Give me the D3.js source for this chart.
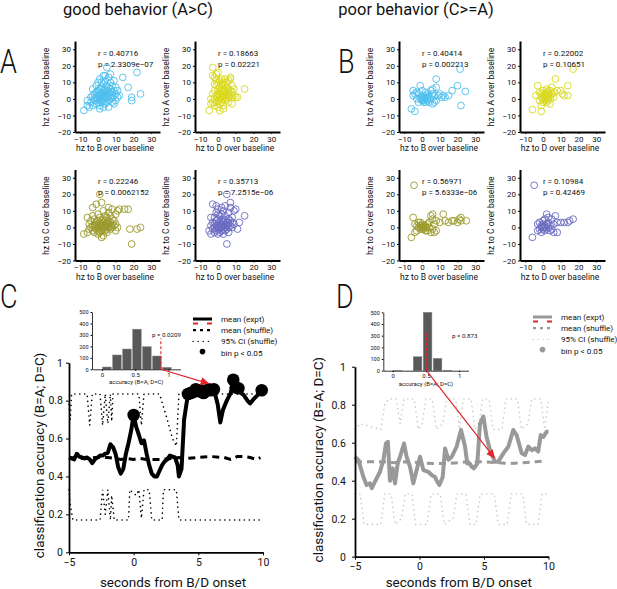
<!DOCTYPE html>
<html>
<head>
<meta charset="utf-8">
<script src="https://cdn.jsdelivr.net/npm/d3@7"></script>
<style>
body { margin: 0; background: #fff; }
text { font-family: Roboto, "Open Sans", sans-serif; fill: #111; }
</style>
</head>
<body>
<script>
// scatter data, [hz to B or D, hz to A or C] over baseline
var goodBA = [[-8,-7],[-6,-4],[-5,-5],[-4,-2],[-4,1],[-3,-4],[-3,2],[-2,-1],[-2,3],[-2,0],[-1,-3],[-1,1],[-1,4],[-1,8],[0,-2],[0,0],[0,2],[0,5],[0,10],[1,-4],[1,-1],[1,1],[1,3],[1,6],[1,12],[2,-2],[2,0],[2,2],[2,4],[2,7],[3,-5],[3,-1],[3,1],[3,3],[3,5],[3,9],[3,14],[4,-3],[4,0],[4,2],[4,4],[4,6],[4,11],[5,-2],[5,1],[5,3],[5,5],[5,8],[5,19],[6,-1],[6,2],[6,4],[6,7],[6,13],[7,0],[7,3],[7,6],[7,10],[8,-2],[8,1],[8,4],[8,8],[9,2],[9,5],[9,11],[10,-1],[10,3],[10,7],[11,1],[11,5],[12,2],[14,13],[17,7],[19,1],[19,-1],[22,16],[24,3],[-6,-1],[-3,6],[2,10],[4,14],[7,15],[6,-5],[1,-6],[9,-3]];
var goodDA = [[-5,-7],[-4,-3],[-3,19],[-3,14],[-2,13],[-1,15],[0,16],[-4,0],[-3,-2],[-3,3],[-2,-4],[-2,0],[-2,5],[-1,-2],[-1,2],[-1,8],[0,-5],[0,-1],[0,1],[0,3],[0,6],[0,10],[1,-3],[1,0],[1,2],[1,4],[1,7],[1,11],[2,-2],[2,1],[2,3],[2,5],[2,8],[2,9],[3,-4],[3,0],[3,2],[3,4],[3,6],[3,10],[4,-1],[4,1],[4,3],[4,5],[4,8],[4,12],[5,0],[5,2],[5,4],[5,7],[6,-2],[6,1],[6,3],[6,6],[6,11],[7,2],[7,5],[7,13],[7,12],[8,1],[8,4],[8,8],[9,2],[9,6],[10,1],[11,1],[15,6],[-1,12],[2,12],[5,10],[3,-6],[-2,9],[8,-3],[1,-7]];
var goodBC = [[-8,-4],[-6,-3],[-5,-1],[-5,2],[-4,0],[-4,4],[-3,-2],[-3,1],[-3,7],[-2,-3],[-2,0],[-2,2],[-2,5],[-1,-1],[-1,1],[-1,3],[-1,14],[0,-4],[0,-2],[0,0],[0,2],[0,4],[0,8],[1,-3],[1,-1],[1,1],[1,3],[1,6],[1,20],[2,-2],[2,0],[2,2],[2,4],[2,15],[3,-5],[3,-1],[3,1],[3,3],[3,5],[3,10],[4,-2],[4,0],[4,2],[4,4],[4,7],[5,-3],[5,-1],[5,1],[5,3],[5,6],[6,0],[6,2],[6,4],[6,9],[7,-1],[7,1],[7,3],[7,7],[8,0],[8,2],[8,5],[8,11],[9,1],[9,4],[10,2],[10,8],[11,0],[11,10],[12,11],[15,11],[17,11],[18,-1],[22,-1],[24,0],[19,-10],[-3,12],[6,12],[10,-2],[2,-6],[-6,6]];
var goodDC = [[-5,-2],[-4,-4],[-4,1],[-3,14],[-3,-1],[-3,3],[-2,-3],[-2,0],[-2,2],[-2,6],[-1,-2],[-1,1],[-1,4],[-1,9],[0,-4],[0,-1],[0,0],[0,2],[0,5],[0,11],[1,-3],[1,0],[1,1],[1,3],[1,7],[2,-2],[2,0],[2,2],[2,4],[2,8],[2,12],[3,-1],[3,1],[3,3],[3,5],[3,10],[4,-2],[4,0],[4,2],[4,4],[4,7],[5,-1],[5,1],[5,3],[5,20],[5,-10],[6,0],[6,2],[6,5],[6,9],[7,15],[7,1],[7,4],[7,12],[8,0],[8,3],[8,6],[9,2],[9,10],[10,11],[11,-1],[12,3],[15,7],[-1,13],[3,-4],[6,-3],[0,8],[4,13],[-4,6]];
var poorBA = [[-6,-6],[-4,-7.5],[-5,5],[-4,3],[-3,4],[-5,2],[-2,3],[-1,8],[0,5],[0,0],[0,1],[0,-1],[1,0],[1,2],[1,-1],[2,0],[2,1],[2,-2],[3,0],[3,-1],[3,1],[-1,0],[-2,-2],[4,2],[4,-2],[5,5],[5,0],[6,6],[6,3],[7,-2],[7,2],[8,7],[8,12],[9,2],[10,3],[11,1],[12,2],[13,1],[15,2],[17,5],[20,8],[21.5,18],[22,-4],[24.5,4.5],[6,-3],[2,4],[-3,0],[1,-2],[3,3],[8,-1]];
var poorDA = [[-6,-6.5],[-1,-7.5],[-3,8],[-4,2],[-2,4],[-2,-1],[-1,1],[-1,3],[0,5],[0,0],[0,-2],[0,2],[1,1],[1,-1],[1,3],[1,0],[2,2],[2,-2],[2,0],[2,4],[3,5],[3,1],[3,-1],[3,3],[4,0],[4,2],[4,-3],[5,7],[5,3],[6,1],[6,4],[7,12],[8,5],[10,5],[11,3],[12,2],[14,8],[14,2],[17,18],[-1,-4],[4,5],[2,6]];
var poorBC = [[-4.5,25.5],[-6,-6],[-5,6],[-4,-3],[-4,2],[-3,1],[-3,-2],[-2,3],[-2,0],[-1,1],[-1,-1],[0,0],[0,1],[0,-1],[0,2],[1,0],[1,1],[1,-1],[2,0],[2,1],[2,-2],[3,-2],[3,2],[4,3],[5,7],[5,-3],[6,8],[6,5],[6,-1],[7,2],[7,-3],[8,4],[8,-2],[10,3],[12,8],[13,4],[15,3],[17,4],[18,4],[20,3],[21,5],[22,6],[22,4],[25,4],[4,0],[-1,3]];
var poorDC = [[-5,25.5],[-6,-6],[-3,-2],[-3,2],[-2,3],[-2,-1],[-1,0],[-1,1],[0,0],[0,-1],[0,2],[0,4],[1,1],[1,-2],[1,0],[2,8],[2,2],[2,-1],[3,6],[3,0],[3,3],[4,-2],[4,1],[5,5],[5,-1],[6,2],[7,7],[8,-3],[8,3],[10,3],[12,3],[14,3],[15,4],[17,5],[6,-3],[1,5],[-1,-3]];
var scatterStats = [
  ['r = 0.40716', 'p = 2.3309e\u221207'], ['r = 0.18663', 'p = 0.02221'],
  ['r = 0.22246', 'p = 0.0062152'], ['r = 0.35713', 'p = 7.2515e\u221206'],
  ['r = 0.40414', 'p = 0.002213'], ['r = 0.22002', 'p = 0.10651'],
  ['r = 0.56971', 'p = 5.6333e\u221206'], ['r = 0.10984', 'p = 0.42469']
];
var scatterXTicks = [-10, 0, 10, 20, 30];
var scatterYTicks = [-20, -10, 0, 10, 20, 30];

// decoding over time, [seconds, accuracy]
var goodExpt = [[-5,0.50],[-4.8,0.495],[-4.6,0.49],[-4.4,0.52],[-4.2,0.505],[-4.0,0.50],[-3.8,0.495],[-3.6,0.50],[-3.4,0.49],[-3.2,0.47],[-3.0,0.49],[-2.8,0.50],[-2.6,0.51],[-2.4,0.51],[-2.2,0.52],[-2.0,0.525],[-1.8,0.57],[-1.6,0.555],[-1.4,0.52],[-1.2,0.45],[-1.0,0.415],[-0.8,0.44],[-0.6,0.52],[-0.4,0.575],[-0.2,0.64],[0,0.724],[0.2,0.66],[0.4,0.62],[0.6,0.575],[0.8,0.59],[1.0,0.52],[1.2,0.46],[1.4,0.415],[1.6,0.40],[1.8,0.40],[2.0,0.43],[2.2,0.46],[2.4,0.48],[2.6,0.49],[2.8,0.51],[3.0,0.505],[3.2,0.50],[3.4,0.46],[3.5,0.40],[3.7,0.44],[3.9,0.70],[4.2,0.835],[4.4,0.84],[4.6,0.845],[4.8,0.86],[5.0,0.85],[5.2,0.855],[5.4,0.84],[5.6,0.85],[5.8,0.86],[6.0,0.855],[6.2,0.86],[6.5,0.78],[6.7,0.685],[6.9,0.75],[7.2,0.80],[7.5,0.84],[7.7,0.91],[7.9,0.87],[8.1,0.865],[8.3,0.84],[8.5,0.83],[8.8,0.80],[9.0,0.785],[9.3,0.81],[9.6,0.83],[9.9,0.855]];
var goodShuffle = [[-5,0.50],[-4,0.495],[-3,0.50],[-2,0.50],[-1.5,0.495],[-1,0.49],[-0.5,0.495],[0,0.49],[0.5,0.495],[1,0.49],[2,0.49],[3,0.495],[3.5,0.50],[4,0.495],[5,0.50],[6,0.505],[7,0.50],[7.5,0.49],[8,0.505],[8.5,0.505],[9,0.50],[9.5,0.49],[9.8,0.50]];
var goodCIHigh = [[-5,0.78],[-4.9,0.70],[-4.8,0.835],[-3.6,0.835],[-3.4,0.67],[-3.2,0.835],[-2.6,0.835],[-2.4,0.67],[-2.2,0.835],[-2.0,0.68],[-1.8,0.835],[-1.7,0.69],[-1.6,0.835],[0.4,0.835],[0.6,0.67],[0.8,0.835],[2.0,0.835],[2.6,0.70],[3.0,0.60],[3.3,0.56],[3.5,0.835],[10,0.835]];
var goodCILow = [[-5,0.33],[-4.9,0.25],[-4.7,0.17],[-2.6,0.17],[-2.4,0.33],[-2.2,0.20],[-2.0,0.33],[-1.8,0.17],[-1.7,0.30],[-1.5,0.17],[-0.4,0.17],[-0.3,0.33],[0.2,0.30],[0.4,0.33],[0.6,0.18],[0.8,0.33],[1.2,0.33],[1.4,0.17],[2.2,0.17],[2.3,0.33],[3.3,0.33],[3.5,0.17],[10,0.17]];
var goodSigTimes = [0, 4.2, 4.4, 4.6, 4.8, 5.0, 5.2, 5.4, 5.6, 5.8, 6.0, 6.2, 7.7, 7.9, 8.1, 9.9];

var poorExpt = [[-5,0.526],[-4.74,0.509],[-4.35,0.42],[-4.1,0.377],[-3.84,0.386],[-3.7,0.36],[-3.45,0.395],[-3.06,0.447],[-2.8,0.509],[-2.6,0.596],[-2.45,0.605],[-2.29,0.40],[-2.08,0.465],[-1.9,0.386],[-1.69,0.49],[-1.51,0.526],[-1.2,0.596],[-1.0,0.526],[-0.74,0.474],[-0.48,0.386],[-0.22,0.456],[0.04,0.526],[0.3,0.456],[0.68,0.447],[0.94,0.43],[1.2,0.42],[1.33,0.40],[1.54,0.377],[1.8,0.42],[1.98,0.57],[2.24,0.51],[2.5,0.526],[2.88,0.58],[3.22,0.667],[3.53,0.58],[3.7,0.49],[3.9,0.49],[4.04,0.474],[4.22,0.465],[4.48,0.49],[4.69,0.70],[4.95,0.737],[5.2,0.63],[5.47,0.56],[5.85,0.50],[6.1,0.50],[6.5,0.544],[6.89,0.58],[7.27,0.667],[7.53,0.64],[7.92,0.544],[8.18,0.535],[8.44,0.58],[8.7,0.56],[8.95,0.57],[9.2,0.553],[9.4,0.64],[9.6,0.63],[9.86,0.658],[10,0.658]];
var poorShuffle = [[-5,0.50],[-4,0.50],[-3,0.50],[-2,0.495],[-1,0.50],[0,0.495],[1,0.49],[2,0.49],[3,0.495],[4,0.50],[5,0.50],[6,0.495],[7,0.49],[8,0.495],[9,0.50],[9.8,0.505]];
var poorCIHigh = [[-5,0.67],[-4.6,0.70],[-3.0,0.67],[-2.7,0.80],[-2.4,0.83],[-1.8,0.83],[-1.5,0.70],[-1.2,0.83],[-0.4,0.83],[-0.1,0.67],[0.2,0.70],[0.5,0.83],[1.0,0.83],[1.3,0.67],[1.8,0.70],[2.1,0.83],[2.8,0.83],[3.1,0.67],[3.4,0.83],[4.0,0.83],[4.3,0.67],[4.6,0.70],[4.9,0.83],[5.4,0.83],[5.7,0.67],[6.4,0.67],[6.7,0.83],[7.6,0.83],[7.9,0.67],[8.4,0.70],[8.7,0.83],[9.4,0.83],[9.7,0.67],[10,0.83]];
var poorCILow = [[-5,0.33],[-4.6,0.33],[-4.3,0.17],[-3.0,0.17],[-2.7,0.33],[-2.2,0.33],[-1.9,0.17],[-1.4,0.20],[-1.1,0.33],[-0.6,0.33],[-0.3,0.17],[0.6,0.17],[0.9,0.33],[1.6,0.33],[1.9,0.17],[2.6,0.20],[2.9,0.33],[3.6,0.33],[3.9,0.17],[4.4,0.17],[4.7,0.33],[5.8,0.33],[6.1,0.17],[6.8,0.17],[7.1,0.33],[8.0,0.33],[8.3,0.17],[9.2,0.17],[9.5,0.33],[10,0.33]];
var poorSigTimes = [];

// shuffle histograms (inset)
var histBins = [0.075, 0.225, 0.375, 0.525, 0.675, 0.825, 0.975];
var goodHist = [20, 125, 177, 350, 197, 116, 17];
var poorHist = [3, 0, 120, 768, 106, 3, 0];
var goodObs = 0.885, poorObs = 0.51;
var goodP = 'p = 0.0209', poorP = 'p = 0.873';
var goodArrowTo = [5.8, 0.89], poorArrowTo = [5.8, 0.52];

var legendLabels = ['mean (expt)', 'mean (shuffle)', '95% CI (shuffle)', 'bin p < 0.05'];
var timeTicks = [-5, 0, 5, 10];
var accTicks = [0, 0.2, 0.4, 0.6, 0.8, 1];

var red = '#e3242b';
var fmt = d3.format('~g');

var svg = d3.select('body').append('svg').attr('width', 617).attr('height', 589);

svg.append('defs').append('marker')
  .attr('id', 'arrowhead').attr('viewBox', '0 0 10 10')
  .attr('refX', 9).attr('refY', 5)
  .attr('markerWidth', 9).attr('markerHeight', 9)
  .attr('markerUnits', 'userSpaceOnUse').attr('orient', 'auto')
  .append('path').attr('d', 'M0,0.5 L10,5 L0,9.5 z').attr('fill', red);

// titles and panel letters
svg.append('text').attr('x', 138).attr('y', 15).attr('text-anchor', 'middle')
  .attr('font-size', 16.5).text('good behavior (A>C)');
svg.append('text').attr('x', 416).attr('y', 15).attr('text-anchor', 'middle')
  .attr('font-size', 16.5).text('poor behavior (C>=A)');

[['A', 0, 73], ['B', 338, 73], ['C', 0, 308], ['D', 336, 308]].forEach(function(l) {
  svg.append('text').attr('transform', 'translate(' + l[1] + ',' + l[2] + ') scale(0.82,1)')
    .attr('font-size', 33).attr('font-weight', 300).text(l[0]);
});

var styleAxis = function(g, size, width) {
  g.selectAll('.domain').attr('stroke', '#000').attr('stroke-width', width);
  g.selectAll('.tick line').attr('stroke', '#000');
  g.selectAll('.tick text').attr('font-size', size).attr('font-family', 'Roboto, sans-serif').attr('fill', '#222');
};

var drawScatter = function(x0, y0, pts, color, xName, yName, stats) {
  var x = d3.scaleLinear().domain([-13, 35]).range([x0, x0 + 85]);
  var y = d3.scaleLinear().domain([-20, 35]).range([y0, y0 - 91]);
  var g = svg.append('g');

  g.selectAll('circle').data(pts).enter().append('circle')
    .attr('cx', function(d) { return x(d[0]); })
    .attr('cy', function(d) { return y(d[1]); })
    .attr('r', 3.4)
    .attr('fill', 'none')
    .attr('stroke', color)
    .attr('stroke-width', 0.9);

  var xa = g.append('g').attr('transform', 'translate(0,' + y0 + ')')
    .call(d3.axisBottom(x).tickValues(scatterXTicks).tickFormat(fmt).tickSize(2).tickSizeOuter(0).tickPadding(2));
  styleAxis(xa, 8, 2);
  var ya = g.append('g').attr('transform', 'translate(' + x0 + ',0)')
    .call(d3.axisLeft(y).tickValues(scatterYTicks).tickFormat(fmt).tickSize(2).tickSizeOuter(0).tickPadding(2));
  styleAxis(ya, 8, 2);

  g.append('text').attr('x', x0 + 40).attr('y', y0 + 19).attr('text-anchor', 'middle')
    .attr('font-size', 8.5).attr('fill', '#333').text(xName);
  g.append('text').attr('transform', 'translate(' + (x0 - 26) + ',' + (y0 - 45) + ') rotate(-90)')
    .attr('text-anchor', 'middle').attr('font-size', 8.5).attr('fill', '#333').text(yName);

  g.append('text').attr('x', x(0)).attr('y', y(26)).attr('font-size', 8).attr('fill', '#222').text(stats[0]);
  g.append('text').attr('x', x(0)).attr('y', y(19.5)).attr('font-size', 8).attr('fill', '#222').text(stats[1]);
};

var cyan = '#4dbeee', yellow = '#d8d81c', olive = '#9b9b2c', purple = '#6a6ac2';
drawScatter(75, 132, goodBA, cyan, 'hz to B over baseline', 'hz to A over baseline', scatterStats[0]);
drawScatter(195, 132, goodDA, yellow, 'hz to D over baseline', 'hz to A over baseline', scatterStats[1]);
drawScatter(75, 260.5, goodBC, olive, 'hz to B over baseline', 'hz to C over baseline', scatterStats[2]);
drawScatter(195, 260.5, goodDC, purple, 'hz to D over baseline', 'hz to C over baseline', scatterStats[3]);
drawScatter(399, 132, poorBA, cyan, 'hz to B over baseline', 'hz to A over baseline', scatterStats[4]);
drawScatter(520, 132, poorDA, yellow, 'hz to D over baseline', 'hz to A over baseline', scatterStats[5]);
drawScatter(399, 260.5, poorBC, olive, 'hz to B over baseline', 'hz to C over baseline', scatterStats[6]);
drawScatter(520, 260.5, poorDC, purple, 'hz to D over baseline', 'hz to C over baseline', scatterStats[7]);

// decoding panels with inset histogram
var drawDecode = function(o) {
  var x = d3.scaleLinear().domain([-5, 10]).range(o.xRange);
  var y = d3.scaleLinear().domain([0, 1]).range(o.yRange);
  var line = d3.line().x(function(d) { return x(d[0]); }).y(function(d) { return y(d[1]); });
  var g = svg.append('g');

  [o.ciHigh, o.ciLow].forEach(function(ci) {
    g.append('path').datum(ci).attr('d', line).attr('fill', 'none')
      .attr('stroke', o.ciColor).attr('stroke-width', 1.6)
      .attr('stroke-linecap', 'round').attr('stroke-dasharray', '0.1,4.8');
  });
  g.append('path').datum(o.shuffle).attr('d', line).attr('fill', 'none')
    .attr('stroke', o.color).attr('stroke-width', 3).attr('stroke-dasharray', '7,5');
  g.append('path').datum(o.expt).attr('d', line).attr('fill', 'none')
    .attr('stroke', o.color).attr('stroke-width', 4).attr('stroke-linejoin', 'round');

  var sig = o.sigTimes.map(function(t) {
    return o.expt.find(function(d) { return d[0] === t; });
  });
  g.selectAll('.sig').data(sig).enter().append('circle').attr('class', 'sig')
    .attr('cx', function(d) { return x(d[0]); })
    .attr('cy', function(d) { return y(d[1]); })
    .attr('r', 6.3).attr('fill', o.color);

  var xa = g.append('g').attr('transform', 'translate(0,' + o.yRange[0] + ')')
    .call(d3.axisBottom(x).tickValues(timeTicks).tickFormat(fmt).tickSize(3).tickSizeOuter(0).tickPadding(3));
  styleAxis(xa, 10.5, 1.8);
  var ya = g.append('g').attr('transform', 'translate(' + o.xRange[0] + ',0)')
    .call(d3.axisLeft(y).tickValues(accTicks).tickFormat(fmt).tickSize(3).tickSizeOuter(0).tickPadding(o.yPad));
  styleAxis(ya, 10.5, 1.8);

  g.append('text').attr('x', (o.xRange[0] + o.xRange[1]) / 2 + 7).attr('y', 587)
    .attr('text-anchor', 'middle').attr('font-size', 13.5).text('seconds from B/D onset');
  g.append('text').attr('transform', 'translate(' + o.yLabelX + ',' + ((o.yRange[0] + o.yRange[1]) / 2 - 2) + ') rotate(-90)')
    .attr('text-anchor', 'middle').attr('dominant-baseline', 'central')
    .attr('font-size', 13.5).text('classification accuracy (B=A; D=C)');

  // inset
  var hx = d3.scaleLinear().domain(o.hxDomain).range(o.hxRange);
  var hy = d3.scaleLinear().domain([0, 500]).range(o.hyRange).clamp(true);
  var hg = svg.append('g');
  hg.selectAll('rect').data(histBins).enter().append('rect')
    .attr('x', function(d) { return hx(d - 0.065); })
    .attr('width', function(d) { return hx(d + 0.065) - hx(d - 0.065); })
    .attr('y', function(d, i) { return hy(o.hist[i]); })
    .attr('height', function(d, i) { return hy(0) - hy(o.hist[i]); })
    .attr('fill', '#595959').attr('stroke', '#8a8a8a').attr('stroke-width', 0.5);
  hg.append('line').attr('x1', hx(o.obs)).attr('x2', hx(o.obs))
    .attr('y1', hy(0)).attr('y2', hy(o.obsTop))
    .attr('stroke', red).attr('stroke-width', 1.1).attr('stroke-dasharray', '3,2');
  var hxa = hg.append('g').attr('transform', 'translate(0,' + o.hyRange[0] + ')')
    .call(d3.axisBottom(hx).tickValues([0, 0.5, 1]).tickFormat(fmt).tickSize(1.5).tickSizeOuter(0).tickPadding(2));
  styleAxis(hxa, 6, 0.8);
  var hya = hg.append('g').attr('transform', 'translate(' + o.hxRange[0] + ',0)')
    .call(d3.axisLeft(hy).tickValues([0, 100, 200, 300, 400, 500]).tickSize(1.5).tickSizeOuter(0).tickPadding(2));
  styleAxis(hya, 5.5, 0.8);
  hg.append('text').attr('x', (o.hxRange[0] + o.hxRange[1]) / 2).attr('y', o.hyRange[0] + 15)
    .attr('text-anchor', 'middle').attr('font-size', 6).attr('fill', '#333').text('accuracy (B=A; D=C)');
  hg.append('text').attr('x', o.pPos[0]).attr('y', o.pPos[1]).attr('font-size', 6.2).attr('fill', '#333').text(o.pText);

  svg.append('line')
    .attr('x1', hx(o.obs)).attr('y1', hy(0))
    .attr('x2', x(o.arrowTo[0])).attr('y2', y(o.arrowTo[1]))
    .attr('stroke', red).attr('stroke-width', 1.2).attr('marker-end', 'url(#arrowhead)');

  // legend
  var lx = o.legend[0], ly = o.legend[1];
  var lg = svg.append('g');
  legendLabels.forEach(function(label, i) {
    lg.append('text').attr('x', lx + 28).attr('y', ly + i * 11.2).attr('dominant-baseline', 'central')
      .attr('font-size', 8.1).attr('fill', '#222').text(label);
  });
  lg.append('line').attr('x1', lx).attr('x2', lx + 19).attr('y1', ly).attr('y2', ly)
    .attr('stroke', o.color).attr('stroke-width', 3);
  lg.append('line').attr('x1', lx).attr('x2', lx + 19).attr('y1', ly + 4.5).attr('y2', ly + 4.5)
    .attr('stroke', red).attr('stroke-width', 2.2).attr('stroke-dasharray', '5,9');
  lg.append('line').attr('x1', lx).attr('x2', lx + 19).attr('y1', ly + 11.2).attr('y2', ly + 11.2)
    .attr('stroke', o.color).attr('stroke-width', 2.2).attr('stroke-dasharray', '3,4');
  lg.append('line').attr('x1', lx).attr('x2', lx + 19).attr('y1', ly + 22.4).attr('y2', ly + 22.4)
    .attr('stroke', o.ciColor).attr('stroke-width', 1.3).attr('stroke-linecap', 'round').attr('stroke-dasharray', '0.1,5');
  lg.append('circle').attr('cx', lx + 9.5).attr('cy', ly + 32.6).attr('r', 2.8).attr('fill', o.color);
};

drawDecode({
  xRange: [69, 263], yRange: [552.3, 362.7], yLabelX: 39, yPad: 3,
  expt: goodExpt, shuffle: goodShuffle, ciHigh: goodCIHigh, ciLow: goodCILow, sigTimes: goodSigTimes,
  color: '#000', ciColor: '#000',
  hxDomain: [-0.15, 1.18], hxRange: [92, 180.5], hyRange: [369.3, 312],
  hist: goodHist, obs: goodObs, obsTop: 270, pText: goodP, pPos: [152, 337],
  arrowTo: goodArrowTo, legend: [193, 319]
});
drawDecode({
  xRange: [355, 548.5], yRange: [556.7, 366.7], yLabelX: 317.5, yPad: 6,
  expt: poorExpt, shuffle: poorShuffle, ciHigh: poorCIHigh, ciLow: poorCILow, sigTimes: poorSigTimes,
  color: '#999', ciColor: '#cacaca',
  hxDomain: [-0.14, 1.14], hxRange: [383.3, 468.5], hyRange: [370.7, 312.3],
  hist: poorHist, obs: poorObs, obsTop: 320, pText: poorP, pPos: [452, 338],
  arrowTo: poorArrowTo, legend: [533, 317]
});
</script>
</body>
</html>
